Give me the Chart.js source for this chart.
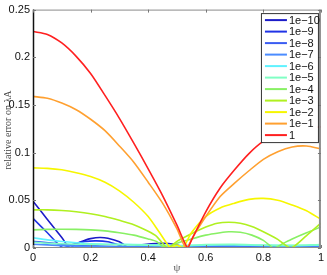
<!DOCTYPE html>
<html>
<head>
<meta charset="utf-8">
<script src="https://cdn.jsdelivr.net/npm/chart.js@4"></script>
<style>
html, body { margin: 0; padding: 0; background: #fff; }
#wrap { width: 327px; height: 275px; }
</style>
</head>
<body>
<div id="wrap"><canvas id="errChart" width="327" height="275"></canvas></div>
<script>
// psi positions and relative error values, one pair of arrays per lambda
const psi1e10 = [0, 0.05, 0.1, 0.128, 0.15, 0.18, 0.2, 0.232, 0.26, 0.3, 0.336, 0.37, 0.41, 0.45, 0.49, 0.53, 0.6, 0.7, 0.8, 0.9, 1];
const err1e10 = [0.049, 0.030, 0.011, 0, 0.0045, 0.008, 0.0098, 0.011, 0.0102, 0.0065, 0, 0.003, 0.0045, 0.005, 0.004, 0.001, 0.002, 0.002, 0.001, 0.0015, 0.003];

const psi1e9 = [0, 0.05, 0.105, 0.14, 0.18, 0.22, 0.26, 0.3, 0.33, 0.4, 0.5, 0.6, 0.7, 0.8, 0.9, 1];
const err1e9 = [0.031, 0.016, 0, 0.004, 0.0068, 0.0075, 0.0065, 0.003, 0, 0.0025, 0.002, 0.001, 0.0015, 0.001, 0.001, 0.002];

const psi1e8 = [0, 0.1, 0.2, 0.3, 0.4, 0.5, 0.6, 0.7, 0.8, 0.9, 1];
const err1e8 = [0.007, 0.004, 0.0025, 0.0015, 0.002, 0.0015, 0.001, 0.0012, 0.001, 0.001, 0.0015];

const psi1e7 = [0, 0.1, 0.2, 0.3, 0.4, 0.5, 0.6, 0.7, 0.8, 0.9, 1];
const err1e7 = [0.004, 0.0025, 0.0015, 0.001, 0.001, 0.0008, 0.0008, 0.0008, 0.0008, 0.0008, 0.001];

const psi1e6 = [0, 0.05, 0.1, 0.15, 0.2, 0.3, 0.4, 0.5, 0.6, 0.7, 0.8, 0.9, 1];
const err1e6 = [0.0107, 0.0085, 0.0068, 0.0055, 0.0045, 0.0038, 0.0033, 0.0025, 0.003, 0.0032, 0.0028, 0.0025, 0.003];

const psi1e5 = [0, 0.05, 0.1, 0.15, 0.2, 0.3, 0.4, 0.5, 0.6, 0.7, 0.8, 0.9, 1];
const err1e5 = [0.006, 0.005, 0.0045, 0.004, 0.0038, 0.0035, 0.003, 0.0022, 0.0035, 0.0038, 0.003, 0.0028, 0.0035];

const psi1e4 = [0, 0.05, 0.1, 0.15, 0.2, 0.25, 0.3, 0.35, 0.4, 0.43, 0.46, 0.5, 0.55, 0.6, 0.65, 0.68, 0.72, 0.76, 0.8, 0.837, 0.87, 0.9, 0.95, 1];
const err1e4 = [0.019, 0.0195, 0.0197, 0.0195, 0.019, 0.018, 0.016, 0.0135, 0.0095, 0.0066, 0, 0.005, 0.0095, 0.0135, 0.016, 0.017, 0.0165, 0.0135, 0.008, 0, 0.005, 0.0095, 0.016, 0.022];

const psi1e3 = [0, 0.05, 0.1, 0.15, 0.2, 0.25, 0.3, 0.35, 0.4, 0.43, 0.467, 0.5, 0.55, 0.6, 0.64, 0.68, 0.72, 0.76, 0.8, 0.85, 0.895, 0.95, 1];
const err1e3 = [0.040, 0.040, 0.0393, 0.038, 0.036, 0.033, 0.029, 0.0245, 0.0175, 0.012, 0, 0.007, 0.015, 0.022, 0.026, 0.027, 0.026, 0.0225, 0.017, 0.009, 0, 0.013, 0.026];

const psi1e2 = [0, 0.05, 0.1, 0.15, 0.2, 0.25, 0.3, 0.35, 0.4, 0.44, 0.478, 0.5, 0.52, 0.55, 0.6, 0.65, 0.7, 0.75, 0.8, 0.85, 0.9, 0.95, 1];
const err1e2 = [0.084, 0.0835, 0.082, 0.079, 0.075, 0.069, 0.060, 0.048, 0.033, 0.016, 0, 0.003, 0, 0.016, 0.033, 0.042, 0.047, 0.051, 0.052, 0.050, 0.045, 0.039, 0.030];

const psi1e1 = [0, 0.05, 0.1, 0.15, 0.2, 0.25, 0.3, 0.35, 0.4, 0.45, 0.5, 0.532, 0.56, 0.6, 0.65, 0.7, 0.75, 0.8, 0.85, 0.9, 0.95, 1];
const err1e1 = [0.159, 0.157, 0.152, 0.145, 0.135, 0.123, 0.107, 0.090, 0.069, 0.047, 0.020, 0, 0.014, 0.033, 0.054, 0.068, 0.081, 0.093, 0.101, 0.106, 0.107, 0.104];

const psi1 = [0, 0.05, 0.1, 0.15, 0.2, 0.25, 0.3, 0.35, 0.4, 0.45, 0.5, 0.537, 0.55, 0.6, 0.65, 0.7, 0.75, 0.8, 0.85, 0.9, 0.95, 1];
const err1 = [0.227, 0.224, 0.215, 0.201, 0.183, 0.160, 0.136, 0.110, 0.083, 0.055, 0.024, 0, 0.008, 0.038, 0.063, 0.082, 0.099, 0.112, 0.120, 0.124, 0.126, 0.127];

const seriesLabels = ["1e\u221210", "1e\u22129", "1e\u22128", "1e\u22127", "1e\u22126", "1e\u22125", "1e\u22124", "1e\u22123", "1e\u22122", "1e\u22121", "1"];
const seriesPsi = [psi1e10, psi1e9, psi1e8, psi1e7, psi1e6, psi1e5, psi1e4, psi1e3, psi1e2, psi1e1, psi1];
const seriesErr = [err1e10, err1e9, err1e8, err1e7, err1e6, err1e5, err1e4, err1e3, err1e2, err1e1, err1];

const xTicks = [0, 0.2, 0.4, 0.6, 0.8, 1];
const yTicks = [0, 0.05, 0.1, 0.15, 0.2, 0.25];

const lineColors = ["#1c1cc8", "#2033e6", "#3a5cf2", "#4b8cff", "#5ff2ff", "#80ffc4", "#88f064", "#b0f020", "#f6f600", "#ffa030", "#ff2020"];

const fmt = (v) => String(parseFloat(v.toFixed(2)));

const datasets = seriesLabels.map((label, i) => ({
    label,
    data: seriesPsi[i].map((p, k) => ({ x: p, y: seriesErr[i][k] })),
    borderColor: lineColors[i],
    backgroundColor: lineColors[i],
    borderWidth: 1.6,
    pointRadius: 0,
    tension: 0.25,
    fill: false,
    order: seriesLabels.length - i
}));

// box, inward ticks, y title and legend drawn on top like the original figure
const framePlugin = {
    id: "frame",
    afterDraw(chart) {
        const { ctx, chartArea, scales } = chart;
        const { left, right, top, bottom } = chartArea;
        ctx.save();

        ctx.strokeStyle = "#8c8c8c";
        ctx.lineWidth = 1;
        ctx.beginPath();
        ctx.moveTo(left, top + 0.5);
        ctx.lineTo(right, top + 0.5);
        ctx.moveTo(left, bottom - 0.5);
        ctx.lineTo(right, bottom - 0.5);
        ctx.stroke();

        ctx.lineWidth = 2;
        ctx.beginPath();
        ctx.moveTo(right - 1, top);
        ctx.lineTo(right - 1, bottom);
        ctx.stroke();

        ctx.strokeStyle = "#111";
        ctx.lineWidth = 1.5;
        ctx.beginPath();
        ctx.moveTo(left + 0.5, top);
        ctx.lineTo(left + 0.5, bottom);
        ctx.stroke();

        ctx.strokeStyle = "#777";
        ctx.lineWidth = 1;
        ctx.beginPath();
        xTicks.forEach(v => {
            const px = Math.round(scales.x.getPixelForValue(v)) + 0.5;
            ctx.moveTo(px, bottom);
            ctx.lineTo(px, bottom - 3);
            ctx.moveTo(px, top);
            ctx.lineTo(px, top + 3);
        });
        yTicks.forEach(v => {
            const py = Math.round(scales.y.getPixelForValue(v)) + 0.5;
            ctx.moveTo(left, py);
            ctx.lineTo(left + 3, py);
            ctx.moveTo(right, py);
            ctx.lineTo(right - 3, py);
        });
        ctx.stroke();

        // y axis title
        ctx.save();
        ctx.translate(8, 130);
        ctx.rotate(-Math.PI / 2);
        ctx.font = "10px 'Liberation Serif', 'DejaVu Serif', serif";
        ctx.fillStyle = "#444";
        ctx.textAlign = "center";
        ctx.textBaseline = "middle";
        ctx.fillText("relative error on \u03bbA", 0, 0);
        ctx.restore();

        // legend
        const boxL = right - 60, boxT = top + 3.5, boxW = 57, boxH = 129;
        ctx.fillStyle = "#fff";
        ctx.fillRect(boxL, boxT, boxW, boxH);
        ctx.strokeStyle = "#333";
        ctx.lineWidth = 1;
        ctx.strokeRect(boxL + 0.5, boxT + 0.5, boxW, boxH);

        ctx.font = "11px 'Liberation Sans', Arial, sans-serif";
        ctx.textBaseline = "middle";
        ctx.textAlign = "left";
        chart.data.datasets.forEach((ds, i) => {
            const rowY = boxT + 7 + i * 11.5;
            ctx.strokeStyle = ds.borderColor;
            ctx.lineWidth = 2;
            ctx.beginPath();
            ctx.moveTo(boxL + 4, rowY);
            ctx.lineTo(boxL + 26, rowY);
            ctx.stroke();
            ctx.fillStyle = "#111";
            ctx.fillText(ds.label, boxL + 28, rowY + 0.5);
        });

        ctx.restore();
    }
};

new Chart(document.getElementById("errChart"), {
    type: "line",
    data: { datasets },
    options: {
        responsive: false,
        animation: false,
        layout: { padding: { top: 8, right: 5, left: 0, bottom: 0 } },
        plugins: {
            legend: { display: false },
            tooltip: { enabled: false }
        },
        scales: {
            x: {
                type: "linear",
                min: 0,
                max: 1,
                afterBuildTicks: (s) => { s.ticks = xTicks.map(v => ({ value: v })); },
                afterFit: (s) => { s.height = 27; },
                grid: { display: false, drawTicks: false },
                border: { display: false },
                ticks: {
                    color: "#111",
                    padding: 3,
                    maxRotation: 0,
                    font: { family: "'Liberation Sans', Arial, sans-serif", size: 11 },
                    callback: (v) => fmt(v)
                },
                title: {
                    display: true,
                    text: "\u03c8",
                    color: "#555",
                    padding: 0,
                    font: { family: "'Liberation Serif', 'DejaVu Serif', serif", size: 11 }
                }
            },
            y: {
                min: 0,
                max: 0.25,
                afterBuildTicks: (s) => { s.ticks = yTicks.map(v => ({ value: v })); },
                afterFit: (s) => { s.width = 33; },
                grid: { display: false, drawTicks: false },
                border: { display: false },
                ticks: {
                    color: "#111",
                    padding: 3,
                    font: { family: "'Liberation Sans', Arial, sans-serif", size: 11 },
                    callback: (v) => fmt(v)
                },
                title: { display: false }
            }
        }
    },
    plugins: [framePlugin]
});
</script>
</body>
</html>
